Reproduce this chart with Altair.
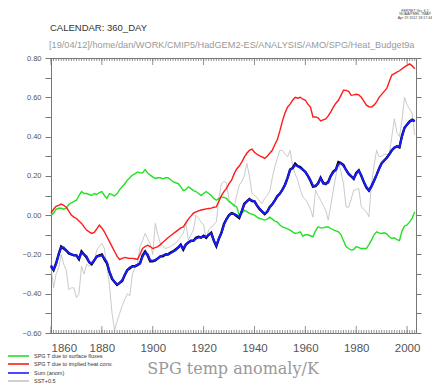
import altair as alt
import pandas as pd

years = list(range(1860, 2004))

surface_fluxes = [
    0.00, 0.01, 0.03, 0.035, 0.035, 0.03, 0.035, 0.055, 0.063, 0.07,
    0.076, 0.10, 0.12, 0.11, 0.11, 0.105, 0.10, 0.11, 0.105, 0.115,
    0.12, 0.10, 0.085, 0.11, 0.105, 0.098, 0.11, 0.13, 0.145, 0.16,
    0.178, 0.19, 0.204, 0.21, 0.22, 0.215, 0.215, 0.232, 0.215, 0.204,
    0.195, 0.187, 0.19, 0.19, 0.185, 0.19, 0.19, 0.18, 0.17, 0.165,
    0.16, 0.145, 0.125, 0.13, 0.144, 0.135, 0.125, 0.12, 0.11, 0.10,
    0.11, 0.12, 0.11, 0.10, 0.085, 0.076, 0.085, 0.093, 0.09, 0.085,
    0.07, 0.06, 0.05, 0.042, 0.0, 0.01, 0.025, 0.018, 0.009, 0.005,
    0.0, -0.01, -0.017, -0.02, -0.025, -0.02, -0.01, -0.02, -0.03, -0.035,
    -0.05, -0.06, -0.065, -0.07, -0.076, -0.085, -0.093, -0.09, -0.085, -0.107,
    -0.1, -0.1, -0.105, -0.11, -0.08, -0.06, -0.065, -0.065, -0.06, -0.06,
    -0.068, -0.075, -0.08, -0.085, -0.1, -0.13, -0.16, -0.17, -0.178, -0.175,
    -0.16, -0.165, -0.17, -0.17, -0.17, -0.15, -0.127, -0.1, -0.085, -0.09,
    -0.093, -0.09, -0.095, -0.11, -0.119, -0.115, -0.125, -0.13, -0.08, -0.055,
    -0.05, -0.034, -0.015, 0.017,
]

implied_conv = [
    0.01, 0.03, 0.045, 0.05, 0.056, 0.05, 0.04, 0.02, 0.0, -0.01,
    -0.017, -0.03, -0.042, -0.06, -0.076, -0.085, -0.093, -0.088, -0.07, -0.051,
    -0.065, -0.085, -0.11, -0.135, -0.16, -0.185, -0.21, -0.226, -0.22, -0.215,
    -0.218, -0.22, -0.22, -0.222, -0.225, -0.2, -0.17, -0.16, -0.153, -0.16,
    -0.17, -0.165, -0.16, -0.15, -0.138, -0.127, -0.115, -0.105, -0.095, -0.085,
    -0.075, -0.065, -0.06, -0.04, -0.02, -0.005, 0.01, 0.017, 0.022, 0.026,
    0.029, 0.032, 0.034, 0.036, 0.04, 0.042, 0.07, 0.1, 0.12, 0.136,
    0.16, 0.178, 0.21, 0.235, 0.25, 0.27, 0.295, 0.315, 0.33, 0.336,
    0.32, 0.31, 0.302, 0.297, 0.289, 0.3, 0.315, 0.33, 0.36, 0.385,
    0.43, 0.48, 0.52, 0.55, 0.565, 0.585, 0.6, 0.595, 0.6, 0.59,
    0.585, 0.565, 0.55, 0.5, 0.5, 0.495, 0.48, 0.485, 0.49, 0.505,
    0.526, 0.55, 0.57, 0.585, 0.61, 0.636, 0.635, 0.63, 0.61, 0.612,
    0.615, 0.612, 0.6, 0.58, 0.56, 0.552, 0.55, 0.56, 0.577, 0.6,
    0.615, 0.63, 0.645, 0.68, 0.713, 0.72, 0.728, 0.735, 0.745, 0.755,
    0.762, 0.77, 0.76, 0.745,
]

sum_anom = [
    -0.255, -0.277, -0.25, -0.2, -0.165, -0.165, -0.18, -0.19, -0.2, -0.203,
    -0.205, -0.22, -0.19, -0.2, -0.21, -0.24, -0.245, -0.23, -0.212, -0.208,
    -0.205, -0.22, -0.24, -0.289, -0.32, -0.34, -0.352, -0.345, -0.33, -0.305,
    -0.28, -0.266, -0.262, -0.26, -0.252, -0.246, -0.21, -0.19, -0.2, -0.23,
    -0.232, -0.23, -0.22, -0.21, -0.205, -0.2, -0.198, -0.195, -0.185, -0.178,
    -0.165, -0.153, -0.17, -0.15, -0.136, -0.133, -0.13, -0.12, -0.114, -0.112,
    -0.11, -0.11, -0.1, -0.093, -0.127, -0.153, -0.12, -0.09, -0.05, -0.02,
    0.0, 0.009, 0.005, 0.0, -0.01, 0.02, 0.055, 0.07, 0.08, 0.075,
    0.07, 0.05, 0.034, 0.02, 0.009, 0.017, 0.04, 0.056, 0.075, 0.095,
    0.11, 0.13, 0.153, 0.19, 0.23, 0.238, 0.255, 0.248, 0.24, 0.232,
    0.22, 0.2, 0.178, 0.15, 0.15, 0.16, 0.187, 0.16, 0.16, 0.165,
    0.2, 0.218, 0.23, 0.26, 0.265, 0.25, 0.23, 0.212, 0.2, 0.187,
    0.21, 0.225, 0.204, 0.17, 0.144, 0.127, 0.145, 0.175, 0.204, 0.235,
    0.263, 0.28, 0.29, 0.31, 0.33, 0.345, 0.348, 0.348, 0.4, 0.445,
    0.46, 0.475, 0.484, 0.48,
]

sum_total = [
    -0.26, -0.28, -0.245, -0.2, -0.16, -0.17, -0.18, -0.195, -0.2, -0.205,
    -0.205, -0.225, -0.185, -0.2, -0.215, -0.24, -0.25, -0.23, -0.21, -0.205,
    -0.2, -0.225, -0.245, -0.29, -0.325, -0.34, -0.355, -0.345, -0.335, -0.305,
    -0.28, -0.27, -0.26, -0.26, -0.255, -0.245, -0.205, -0.185, -0.205, -0.235,
    -0.235, -0.23, -0.22, -0.21, -0.21, -0.2, -0.2, -0.19, -0.185, -0.175,
    -0.165, -0.15, -0.175, -0.15, -0.14, -0.13, -0.13, -0.115, -0.11, -0.115,
    -0.105, -0.115, -0.1, -0.09, -0.13, -0.158, -0.12, -0.09, -0.045, -0.02,
    0.0, 0.01, 0.005, -0.005, -0.015, 0.02, 0.058, 0.07, 0.082, 0.072,
    0.07, 0.048, 0.03, 0.018, 0.005, 0.017, 0.042, 0.055, 0.075, 0.097,
    0.11, 0.13, 0.155, 0.19, 0.232, 0.24, 0.262, 0.25, 0.245, 0.232,
    0.22, 0.2, 0.175, 0.145, 0.148, 0.162, 0.19, 0.165, 0.158, 0.17,
    0.2, 0.222, 0.232, 0.27, 0.265, 0.255, 0.23, 0.21, 0.198, 0.185,
    0.215, 0.228, 0.2, 0.168, 0.14, 0.125, 0.148, 0.175, 0.205, 0.238,
    0.265, 0.278, 0.292, 0.31, 0.33, 0.343, 0.35, 0.345, 0.405, 0.445,
    0.462, 0.477, 0.486, 0.478,
]

sst_plus = [
    -0.26, -0.37, -0.3, -0.27, -0.2, -0.25, -0.28, -0.38, -0.37, -0.37,
    -0.42, -0.4, -0.26, -0.3, -0.25, -0.26, -0.25, -0.235, -0.178, -0.16,
    -0.144, -0.17, -0.26, -0.36, -0.5, -0.585, -0.54, -0.5, -0.46, -0.43,
    -0.4, -0.41, -0.3, -0.27, -0.25, -0.16, -0.13, -0.093, -0.12, -0.144,
    -0.2, -0.042, -0.1, -0.144, -0.16, -0.17, -0.165, -0.16, -0.15, -0.144,
    -0.127, -0.11, -0.093, -0.04, -0.127, -0.1, -0.076, 0.0, -0.017, -0.035,
    -0.05, -0.12, -0.076, -0.06, -0.05, -0.034, 0.085, 0.16, 0.17, 0.165,
    0.076, 0.06, 0.042, 0.1, 0.153, 0.17, 0.2, 0.263, 0.2, 0.11,
    0.1, 0.09, 0.07, 0.06, 0.085, 0.1, 0.12, 0.19, 0.246, 0.29,
    0.33, 0.33, 0.31, 0.297, 0.33, 0.25, 0.21, 0.178, 0.13, 0.093,
    0.08, 0.06, 0.03, -0.01, 0.127, 0.1, 0.076, 0.05, 0.025, -0.025,
    0.05, 0.127, 0.2, 0.27, 0.22, 0.16, 0.042, 0.04, 0.08, 0.127,
    0.13, 0.136, 0.042, 0.03, 0.017, -0.008, 0.16, 0.25, 0.33, 0.297,
    0.3, 0.31, 0.31, 0.31, 0.4, 0.49, 0.42, 0.4, 0.484, 0.6,
    0.56, 0.54, 0.518, 0.407,
]

for s in (surface_fluxes, implied_conv, sum_anom, sum_total, sst_plus):
    assert len(s) == len(years), len(s)

legend_labels = ["SPG T due to surface fluxes", "SPG T due to implied heat conv.",
                 "Sum (anom)", "SST+0.5"]
legend_colors = ["#22e022", "#ff1a1a", "#1a1aff", "#c4c4c4"]

x_labels = [1860, 1880, 1900, 1920, 1940, 1960, 1980, 2000]
y_ticks = [round(-0.6 + 0.1 * i, 1) for i in range(15)]

W, H = 365, 275
xscale = alt.Scale(domain=[1860, 2003.5], nice=False, zero=False)
yscale = alt.Scale(domain=[-0.6, 0.8], nice=False, zero=False)
FONT = "Liberation Sans"

def frame(vals):
    return pd.DataFrame({"year": years, "v": vals})

x_bottom = alt.X("year:Q", scale=xscale, title=None,
                 axis=alt.Axis(values=x_labels, format="d", ticks=False, grid=False,
                               domainColor="#777", labelFont=FONT, labelFontSize=11.5,
                               labelColor="#555", labelPadding=9))
x_top = alt.X("year:Q", scale=xscale, title=None,
              axis=alt.Axis(orient="top", labels=False, ticks=False, grid=False,
                            domainColor="#777"))
x_none = alt.X("year:Q", scale=xscale, axis=None)

y_left = alt.Y("v:Q", scale=yscale, title=None,
               axis=alt.Axis(values=y_ticks, grid=False, tickSize=6, tickColor="#777",
                             domainColor="#777", labelFont=FONT, labelFontSize=7.5,
                             labelColor="#555", labelPadding=4,
                             labelExpr="abs(round(datum.value*10)) % 2 == 0 ? format(datum.value, '.2f') : ''"))
y_right = alt.Y("v:Q", scale=yscale, title=None,
                axis=alt.Axis(orient="right", values=y_ticks, labels=False, grid=False,
                              tickSize=5, tickColor="#777", domainColor="#777"))
y_none = alt.Y("v:Q", scale=yscale, axis=None)

gray = alt.Chart(frame(sst_plus)).mark_line(color="#bdbdbd", strokeWidth=0.8).encode(
    x=x_bottom, y=y_left)
green = alt.Chart(frame(surface_fluxes)).mark_line(color="#22e022", strokeWidth=1.4).encode(
    x=x_top, y=y_right)
red = alt.Chart(frame(implied_conv)).mark_line(color="#ff1a1a", strokeWidth=1.4).encode(
    x=x_none, y=y_none)
black = alt.Chart(frame(sum_total)).mark_line(color="#000000", strokeWidth=2.4).encode(
    x=x_none, y=y_none)
blue = alt.Chart(frame(sum_anom)).mark_line(color="#1a1aff", strokeWidth=2.0).encode(
    x=x_none, y=y_none)

tick_df = pd.DataFrame({"year": years})
tick_df["major"] = tick_df["year"].isin(x_labels)
minor_bottom = alt.Chart(tick_df).mark_rule(color="#777", strokeWidth=0.8).encode(
    x=x_none, y=alt.value(H), y2=alt.value(H - 3))
minor_top = alt.Chart(tick_df).mark_rule(color="#777", strokeWidth=0.8).encode(
    x=x_none, y=alt.value(0), y2=alt.value(3))
major_bottom = alt.Chart(tick_df).transform_filter("datum.major").mark_rule(
    color="#777", strokeWidth=0.8).encode(x=x_none, y=alt.value(H), y2=alt.value(H - 7))
major_top = alt.Chart(tick_df).transform_filter("datum.major").mark_rule(
    color="#777", strokeWidth=0.8).encode(x=x_none, y=alt.value(0), y2=alt.value(7))

def text(s, x, y, size, color, font=FONT, align="left"):
    return alt.Chart(pd.DataFrame({"t": [s]})).mark_text(
        font=font, fontSize=size, color=color, align=align, baseline="middle").encode(
        text="t:N", x=alt.value(x), y=alt.value(y))

texts = [
    text("CALENDAR: 360_DAY", -1, -30, 9.5, "#333"),
    text("[19/04/12]/home/dan/WORK/CMIP5/HadGEM2-ES/ANALYSIS/AMO/SPG/Heat_Budget9a",
         -2, -13, 9.2, "#999"),
    text("FERRET Ver. 6.1", 364, -47.5, 3.6, "#444", align="center"),
    text("NOAA/PMEL TMAP", 364, -44, 3.6, "#444", align="center"),
    text("Apr 19 2012 18:17:44", 364, -40.5, 3.6, "#444", align="center"),
    text("SPG temp anomaly/K", 182, 311, 16, "#999", font="DejaVu Serif", align="center"),
]

leg_y = [298, 306, 315, 323]
legend_layers = []
for lab, col, ly in zip(legend_labels, legend_colors, leg_y):
    legend_layers.append(
        alt.Chart(pd.DataFrame({"t": [lab]})).mark_rule(color=col, strokeWidth=1.6).encode(
            x=alt.value(-43), x2=alt.value(-22), y=alt.value(ly)))
    legend_layers.append(text(lab, -17, ly, 5.5, "#333"))

chart = alt.layer(
    gray, green, red, black, blue,
    minor_bottom, minor_top, major_bottom, major_top,
    *texts, *legend_layers,
).resolve_axis(x="independent", y="independent").properties(
    width=W, height=H,
    autosize=alt.AutoSizeParams(type="none"),
    padding={"left": 43, "top": 50, "right": 16, "bottom": 50},
).configure_view(stroke=None).configure(background="white")

chart.save("out.html", embed_options={"renderer": "svg", "actions": False})
